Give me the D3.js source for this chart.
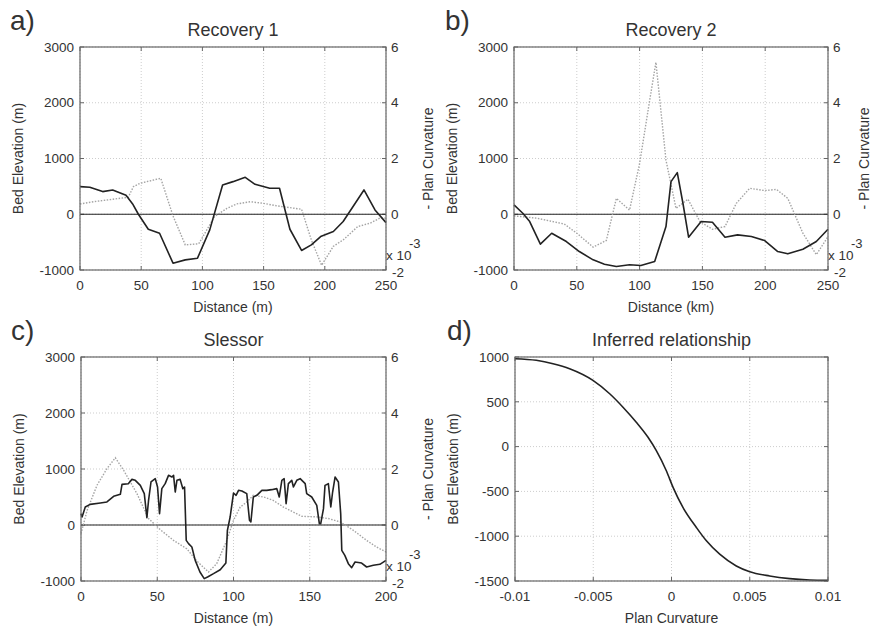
<!DOCTYPE html>
<html>
<head>
<meta charset="utf-8">
<script src="https://cdn.jsdelivr.net/npm/d3@7"></script>
<style>
  body { margin: 0; background: #fff; }
  svg text { font-family: "Liberation Sans", Arial, sans-serif; fill: #333; }
</style>
</head>
<body>
<svg id="chart" width="872" height="628"></svg>
<script>
// ---- data ----
// a) Recovery 1
var rec1Dist = [0, 8, 18.5, 26.7, 37.6, 43, 47.7, 55.8, 65, 76, 86, 96, 106, 116.5, 125, 135, 143, 155, 163, 171.5, 181, 189, 196.6, 207, 215, 232, 241, 250];
var rec1Elev = [495, 484, 406, 436, 340, 185, 0, -269, -340, -878, -818, -788, -280, 525, 585, 663, 537, 466, 466, -269, -650, -550, -400, -310, -131, 436, 78, -150];
var rec1CurvDist = [0, 11, 27, 39.5, 43.6, 49, 66, 76, 86, 97, 110, 120, 128, 139, 150, 161, 181, 189, 197.4, 207, 215, 227, 237, 245, 250];
var rec1Curv = [0.37, 0.45, 0.54, 0.61, 0.99, 1.11, 1.29, -0.06, -1.10, -1.06, -0.08, 0.21, 0.37, 0.45, 0.39, 0.30, 0.18, -0.92, -1.83, -1.15, -0.92, -0.44, -0.32, -0.14, -0.14];

// b) Recovery 2
var rec2Dist = [0, 7, 12.5, 21, 30, 41.7, 52, 63, 72, 81.5, 92, 101, 112, 121, 125, 130, 134.5, 139, 149, 158, 168, 178, 189, 199.6, 210, 218, 230, 240.7, 250];
var rec2Elev = [167, 18, -131, -537, -340, -490, -669, -818, -896, -937, -907, -919, -848, -221, 585, 746, 197, -412, -131, -143, -412, -370, -400, -472, -669, -710, -627, -490, -269];
var rec2CurvDist = [0, 18, 40, 50, 63, 73.5, 81.5, 92, 100, 108, 113, 121, 129, 138.5, 148, 158, 168, 177, 187.6, 199.6, 209, 218, 230, 240.7, 250];
var rec2Curv = [-0.06, -0.14, -0.35, -0.68, -1.18, -0.94, 0.57, 0.15, 1.82, 4.08, 5.45, 1.94, 0.21, 0.54, -0.26, -0.54, -0.44, 0.39, 0.93, 0.85, 0.89, 0.57, -0.68, -1.45, -0.80];

// c) Slessor
var slesDist = [0, 0.7, 2.8, 6, 12.7, 17, 21.4, 25.8, 26.9, 31, 33.4, 35.6, 38.9, 41.5, 43.2, 44.3, 45.9, 48.7, 50.2, 51.5, 53, 55.2, 57.4, 59.6, 60.7, 61.8, 62.9, 65, 66.8, 67.9, 69, 70.5, 72.7, 74.9, 78, 80.8, 83, 86.9, 91.3, 95, 96, 97.8, 100, 101.7, 103.3, 105.5, 108.7, 110.5, 111.4, 113, 115.3, 118.6, 121.8, 125, 128.4, 130, 131.7, 133.2, 134.5, 136, 138.2, 139.3, 141.5, 143.7, 147, 148, 151.3, 154.6, 156.3, 157.2, 159, 160, 162.2, 163.8, 165, 166.6, 168.8, 170.3, 171, 173, 175.3, 177.5, 179.7, 184, 187.3, 191.7, 196, 200];
var slesElev = [202, 143, 321, 369, 393, 411, 512, 548, 726, 738, 815, 798, 708, 560, 131, 440, 768, 827, 679, 202, 649, 738, 887, 857, 887, 589, 798, 815, 649, 679, -274, -333, -393, -631, -839, -958, -928, -869, -798, -679, -95, 143, 571, 530, 619, 607, 560, 83, 54, 500, 530, 619, 619, 631, 649, 500, 798, 827, 381, 738, 798, 679, 798, 827, 738, 560, 500, 351, 24, 24, 292, 708, 738, 321, 589, 857, 768, 202, -452, -542, -690, -762, -661, -679, -750, -720, -702, -631];
var slesCurvDist = [0, 4, 10.5, 17, 22.5, 28, 36.7, 44.3, 52, 60.7, 69.4, 76, 83.6, 89, 95.6, 100, 104.4, 108.7, 113, 119.7, 126, 132.8, 139.3, 144.8, 154.6, 162.2, 170, 178.6, 187.3, 193.9, 200];
var slesCurv = [-0.31, 0.52, 1.42, 2.01, 2.40, 1.95, 1.12, 0.23, -0.17, -0.55, -0.85, -1.29, -1.68, -1.38, -0.55, 0.17, 0.64, 0.82, 1.06, 1.0, 0.88, 0.64, 0.46, 0.31, 0.29, 0.23, 0.11, -0.19, -0.55, -0.79, -0.96];

// d) Inferred relationship
var relCurv = [-0.01, -0.00864, -0.00757, -0.00651, -0.00502, -0.00395, -0.0031, -0.00225, -0.0015, -0.00097, -0.00033, 0.0001, 0.00073, 0.00159, 0.00223, 0.00308, 0.00414, 0.005, 0.00627, 0.00755, 0.00883, 0.01];
var relElev = [981, 963, 925, 869, 739, 590, 440, 272, 104, -45, -269, -455, -679, -903, -1052, -1201, -1332, -1396, -1444, -1474, -1489, -1493];

// tick values
var elevTicks = [-1000, 0, 1000, 2000, 3000];
var curvTicks = [-2, 0, 2, 4, 6];
var distTicks250 = [0, 50, 100, 150, 200, 250];
var distTicks200 = [0, 50, 100, 150, 200];
var relXTicks = [-0.01, -0.005, 0, 0.005, 0.01];
var relYTicks = [-1500, -1000, -500, 0, 500, 1000];

var svg = d3.select("#chart");

function zip(xs, ys){
  return xs.map(function(x, i){ return [x, ys[i]]; });
}

function drawFrame(p){
  // p: box, scales, ticks, labels
  var g = svg.append("g");
  var x = p.x, y = p.y;
  var L = p.left, R = p.right, T = p.top, B = p.bottom;

  // grid
  g.selectAll(".gx").data(p.xTicks).enter().append("line")
    .attr("x1", function(d){ return x(d); }).attr("x2", function(d){ return x(d); })
    .attr("y1", T).attr("y2", B)
    .attr("stroke", "#cdcdcd").attr("stroke-width", 1).attr("stroke-dasharray", "1,2");
  g.selectAll(".gy").data(p.yTicks).enter().append("line")
    .attr("x1", L).attr("x2", R)
    .attr("y1", function(d){ return y(d); }).attr("y2", function(d){ return y(d); })
    .attr("stroke", "#cdcdcd").attr("stroke-width", 1).attr("stroke-dasharray", "1,2");

  // inward ticks
  p.xTicks.forEach(function(d){
    g.append("line").attr("x1", x(d)).attr("x2", x(d)).attr("y1", B).attr("y2", B - 4).attr("stroke", "#666");
    g.append("line").attr("x1", x(d)).attr("x2", x(d)).attr("y1", T).attr("y2", T + 4).attr("stroke", "#666");
  });
  p.yTicks.forEach(function(d){
    g.append("line").attr("x1", L).attr("x2", L + 4).attr("y1", y(d)).attr("y2", y(d)).attr("stroke", "#666");
    g.append("line").attr("x1", R).attr("x2", R - 4).attr("y1", y(d)).attr("y2", y(d)).attr("stroke", "#666");
  });

  // tick labels
  g.selectAll(".xl").data(p.xTicks).enter().append("text")
    .attr("x", function(d){ return x(d); }).attr("y", B + 20)
    .attr("text-anchor", "middle").attr("font-size", 13.5)
    .text(function(d){ return d; });
  g.selectAll(".yl").data(p.yTicks).enter().append("text")
    .attr("x", L - 6).attr("y", function(d){ return y(d); })
    .attr("dy", "0.35em").attr("text-anchor", "end").attr("font-size", 13.5)
    .text(function(d){ return d; });

  // titles and labels
  g.append("text").attr("x", p.letterX).attr("y", T - 17)
    .attr("font-size", 28).text(p.letter);
  g.append("text").attr("x", (L + R) / 2).attr("y", T - 11)
    .attr("text-anchor", "middle").attr("font-size", 18).text(p.title);
  g.append("text").attr("x", (L + R) / 2).attr("y", B + 42)
    .attr("text-anchor", "middle").attr("font-size", 14).text(p.xLabel);
  g.append("text")
    .attr("transform", "translate(" + (L - 57) + "," + ((T + B) / 2) + ") rotate(-90)")
    .attr("text-anchor", "middle").attr("font-size", 14).text("Bed Elevation (m)");
  return g;
}

function drawProfile(p){
  var x = d3.scaleLinear().domain(p.xDomain).range([p.left, p.right]);
  var y = d3.scaleLinear().domain([-1000, 3000]).range([p.bottom, p.top]);
  var yc = d3.scaleLinear().domain([-2, 6]).range([p.bottom, p.top]);
  p.x = x; p.y = y;
  p.yTicks = elevTicks;
  var g = drawFrame(p);

  // right axis labels
  g.selectAll(".rl").data(curvTicks).enter().append("text")
    .attr("x", function(d){ return d < 0 ? p.right + 6 : p.right + 5; })
    .attr("y", function(d){ return d < 0 ? yc(d) + 2 : yc(d); })
    .attr("dy", "0.35em").attr("font-size", 13.5)
    .text(function(d){ return d; });
  g.append("text").attr("x", p.right).attr("y", p.bottom - 10)
    .attr("font-size", 13.5).text("x 10");
  g.append("text").attr("x", p.right + 23).attr("y", p.bottom - 22)
    .attr("font-size", 13).text("-3");
  g.append("text")
    .attr("transform", "translate(" + (p.right + p.rLabelDx) + "," + ((p.top + p.bottom) / 2) + ") rotate(-90)")
    .attr("text-anchor", "middle").attr("font-size", 14).text("- Plan Curvature");

  // zero line
  g.append("line").attr("x1", p.left).attr("x2", p.right)
    .attr("y1", y(0)).attr("y2", y(0)).attr("stroke", "#222").attr("stroke-width", 1.2);

  // curvature (dotted)
  g.append("path").datum(zip(p.curvDist, p.curv))
    .attr("fill", "none").attr("stroke", "#a4a4a4").attr("stroke-width", 1.4)
    .attr("stroke-dasharray", "1.5,1.5")
    .attr("d", d3.line().x(function(d){ return x(d[0]); }).y(function(d){ return yc(d[1]); }));

  // bed elevation (solid)
  g.append("path").datum(zip(p.dist, p.elev))
    .attr("fill", "none").attr("stroke", "#222").attr("stroke-width", 1.6)
    .attr("stroke-linejoin", "round")
    .attr("d", d3.line().x(function(d){ return x(d[0]); }).y(function(d){ return y(d[1]); }));

  // box
  g.append("rect").attr("x", p.left).attr("y", p.top)
    .attr("width", p.right - p.left).attr("height", p.bottom - p.top)
    .attr("fill", "none").attr("stroke", "#666").attr("stroke-width", 1.2);
}

drawProfile({
  left: 80, right: 386, top: 47, bottom: 270, letterX: 10, letter: "a)", rLabelDx: 47,
  title: "Recovery 1", xLabel: "Distance (m)", xDomain: [0, 250], xTicks: distTicks250,
  dist: rec1Dist, elev: rec1Elev, curvDist: rec1CurvDist, curv: rec1Curv
});
drawProfile({
  left: 514, right: 828, top: 47, bottom: 270, letterX: 445, letter: "b)", rLabelDx: 41,
  title: "Recovery 2", xLabel: "Distance (km)", xDomain: [0, 250], xTicks: distTicks250,
  dist: rec2Dist, elev: rec2Elev, curvDist: rec2CurvDist, curv: rec2Curv
});
drawProfile({
  left: 81, right: 386, top: 357, bottom: 581, letterX: 11, letter: "c)", rLabelDx: 47,
  title: "Slessor", xLabel: "Distance (m)", xDomain: [0, 200], xTicks: distTicks200,
  dist: slesDist, elev: slesElev, curvDist: slesCurvDist, curv: slesCurv
});

// d) inferred relationship
(function(){
  var p = {
    left: 515, right: 828, top: 357, bottom: 581, letterX: 447, letter: "d)",
    title: "Inferred relationship", xLabel: "Plan Curvature",
    xTicks: relXTicks, yTicks: relYTicks
  };
  p.x = d3.scaleLinear().domain([-0.01, 0.01]).range([p.left, p.right]);
  p.y = d3.scaleLinear().domain([-1500, 1000]).range([p.bottom, p.top]);
  var g = drawFrame(p);
  g.append("path").datum(zip(relCurv, relElev))
    .attr("fill", "none").attr("stroke", "#222").attr("stroke-width", 1.6)
    .attr("d", d3.line().curve(d3.curveMonotoneX)
      .x(function(d){ return p.x(d[0]); }).y(function(d){ return p.y(d[1]); }));
  g.append("rect").attr("x", p.left).attr("y", p.top)
    .attr("width", p.right - p.left).attr("height", p.bottom - p.top)
    .attr("fill", "none").attr("stroke", "#666").attr("stroke-width", 1.2);
})();
</script>
</body>
</html>
